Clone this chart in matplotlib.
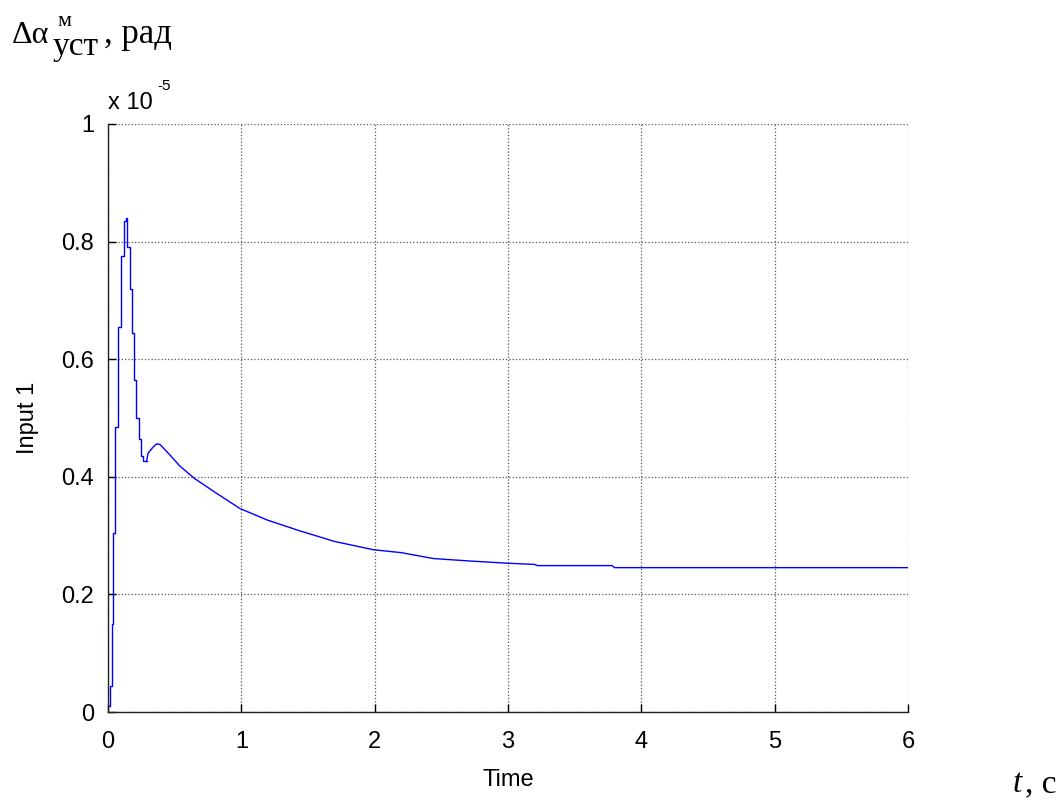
import numpy as np
import matplotlib
matplotlib.use("Agg")
import matplotlib.pyplot as plt

plt.rcParams['font.family'] = ['Liberation Sans', 'DejaVu Sans']

# signal in units of 1e-5 rad
# spike part (sampled, drawn as steps)
t_spike = [0.0, 0.015, 0.027, 0.039, 0.055, 0.078, 0.100, 0.117, 0.132,
           0.145, 0.162, 0.180, 0.197, 0.213, 0.230, 0.245, 0.260, 0.290]
v_spike = [0.010, 0.045, 0.150, 0.305, 0.485, 0.655, 0.775, 0.835, 0.840,
           0.790, 0.720, 0.645, 0.565, 0.500, 0.465, 0.435, 0.427, 0.427]

# slow decay part
t_decay = [0.290, 0.300, 0.340, 0.365, 0.390, 0.465, 0.540, 0.650, 0.800,
           0.990, 1.200, 1.440, 1.700, 1.990, 2.200, 2.440, 2.700, 3.000,
           3.200, 3.220, 3.780, 3.800, 6.000]
v_decay = [0.427, 0.440, 0.451, 0.456, 0.455, 0.437, 0.418, 0.397, 0.374,
           0.346, 0.326, 0.308, 0.290, 0.276, 0.271, 0.261, 0.257, 0.253,
           0.251, 0.249, 0.249, 0.2455, 0.2455]

x_ticks = [0, 1, 2, 3, 4, 5, 6]
y_ticks = [0, 0.2, 0.4, 0.6, 0.8, 1]
y_ticklabels = ['0', '0.2', '0.4', '0.6', '0.8', '1']

W, H = 1062, 801
fig = plt.figure(figsize=(W / 100, H / 100), dpi=100)
ax = fig.add_axes([0.1017, 0.1111, 0.7533, 0.7341])

ax.plot(t_spike, v_spike, color='#0000ff', lw=1.0, drawstyle='steps-post')
ax.plot(t_decay, v_decay, color='#0000ff', lw=1.0)

ax.set_xlim(0, 6)
ax.set_ylim(0, 1)
ax.set_xticks(x_ticks)
ax.set_yticks(y_ticks)
ax.set_yticklabels(y_ticklabels)
ax.tick_params(direction='in', length=6, width=1, labelsize=17, colors='black')
ax.tick_params(axis='x', pad=14)
ax.tick_params(axis='y', pad=10)
ax.grid(True, color='#555555', linestyle=':', linewidth=0.9)
ax.set_axisbelow(True)
ax.spines['top'].set_visible(False)
ax.spines['right'].set_visible(False)
for s in ['left', 'bottom']:
    ax.spines[s].set_linewidth(1.0)
    ax.spines[s].set_color('#222222')

ax.set_xlabel('Time', fontsize=17, labelpad=11)
ax.set_ylabel('Input 1', fontsize=17, labelpad=16)


def px_text(x, y, s, **kw):
    # place text by pixel position (y measured from the top, baseline)
    fig.text(x / W, 1 - y / H, s, va='baseline', **kw)


# exponent of the y axis
px_text(108, 109, 'x 10', fontsize=17)
px_text(157, 90, '-5', fontsize=11)

# y axis quantity label
serif = 'Liberation Serif'
px_text(12, 43, 'Δα', fontsize=23, family=serif)
px_text(58, 26, 'м', fontsize=16, family=serif)
px_text(53, 55, 'уст', fontsize=24, family=serif)
px_text(104, 43, ', рад', fontsize=25, family=serif)

# x axis quantity label
px_text(1013, 792, 't', fontsize=24, family=serif, style='italic')
px_text(1025, 792, ', с', fontsize=24, family=serif)

fig.savefig('out.png', dpi=100)
